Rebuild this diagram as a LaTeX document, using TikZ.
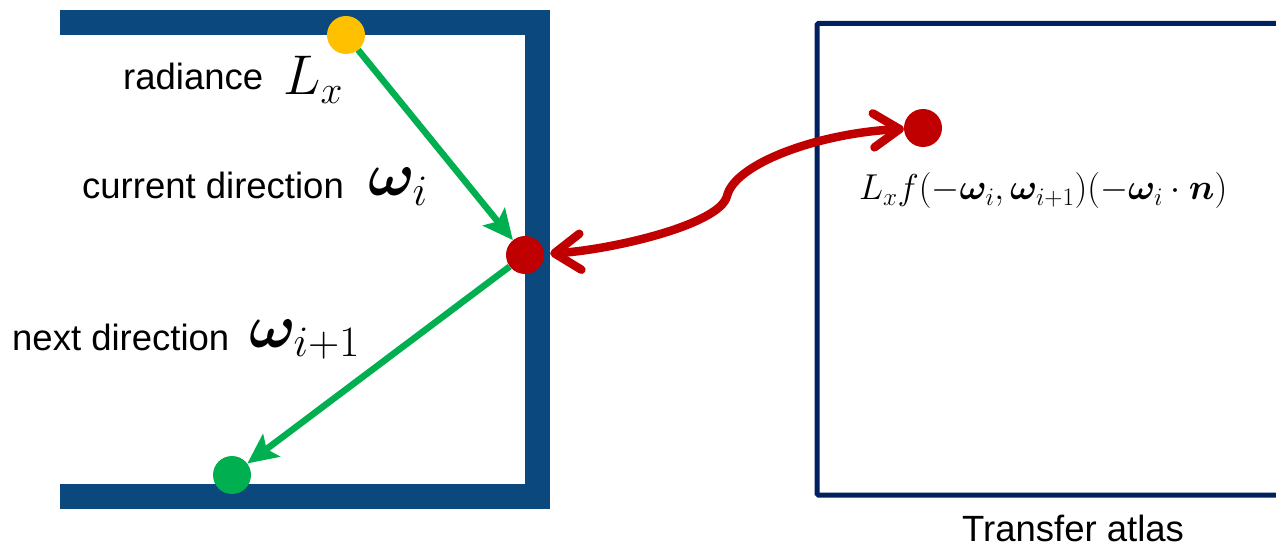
\RequirePackage{fix-cm}
\documentclass[tikz,border=0pt]{standalone}
\usepackage{amsmath,bm}
\usepackage[no-math]{fontspec}
\setmainfont{Liberation Sans}
\usetikzlibrary{arrows.meta}
\definecolor{wallc}{RGB}{10,72,126}
\definecolor{boxc}{RGB}{0,32,96}
\definecolor{rayg}{RGB}{0,176,80}
\definecolor{yel}{RGB}{255,192,0}
\definecolor{linkr}{RGB}{192,0,0}
\begin{document}
\begin{tikzpicture}[x=1pt,y=-1pt,
  lbl/.style={anchor=base west,inner sep=0pt,font=\fontsize{36.5}{40}\selectfont},
  mth/.style={anchor=base west,inner sep=0pt,font=\fontsize{56}{60}\selectfont},
  mthw/.style={anchor=base west,inner sep=0pt,font=\fontsize{62}{66}\selectfont},
  dot/.style={circle,inner sep=0pt,minimum size=38pt},
  ray/.style={draw=rayg,line width=6.5pt,-{Stealth[length=30pt,width=28pt,inset=6pt]}},
  link/.style={draw=linkr,line width=8.5pt,shorten <=6pt,
    {Straight Barb[length=26pt,width=36pt,round]}-{Straight Barb[length=26pt,width=34pt,round]}},
]
\useasboundingbox (0,0) rectangle (1276,548);
% wall
\draw[wallc,line width=25pt,line join=miter] (60,22.5) -- (537.5,22.5) -- (537.5,496.5) -- (60,496.5);
% transfer atlas box
\begin{scope}
\clip (0,0) rectangle (1276,548);
\draw[boxc,line width=5pt,rounded corners=1.5pt] (817,23.5) rectangle (1295,495);
\end{scope}
% dots
\node[dot,fill=yel] (y) at (346,35) {};
\node[dot,fill=linkr] (rw) at (525,255) {};
\node[dot,fill=rayg] (g) at (232,475) {};
\node[dot,fill=linkr] (rt) at (923,128) {};
% rays
\draw[ray] (y) -- (rw);
\draw[ray] (rw) -- (g);
% link
\coordinate (mid) at (727,196);
\draw[link] (rw) .. controls (610,250) and (720,225) .. (mid) .. controls (735,163) and (820,133) .. (rt);
% labels
\node[lbl] (t1) at (123,90) {radiance};
\node[mth] (m1) at (283,95) {$L_x$};
\node[lbl] (t2) at (82,199) {current direction};
\node[mthw] (m2) at (368,196) {$\bm{\omega}_i$};
\node[lbl] (t3) at (12,350) {next direction};
\node[mthw] (m3) at (249,347) {$\bm{\omega}_{i+1}$};
\node[anchor=base west,inner sep=0pt,font=\fontsize{36}{40}\selectfont] (f) at (859,200)
  {$L_x f(-\bm{\omega}_i,\bm{\omega}_{i+1})(-\bm{\omega}_i\cdot\bm{n})$};
\node[lbl] (ta) at (962,541) {Transfer atlas};
\end{tikzpicture}
\end{document}
